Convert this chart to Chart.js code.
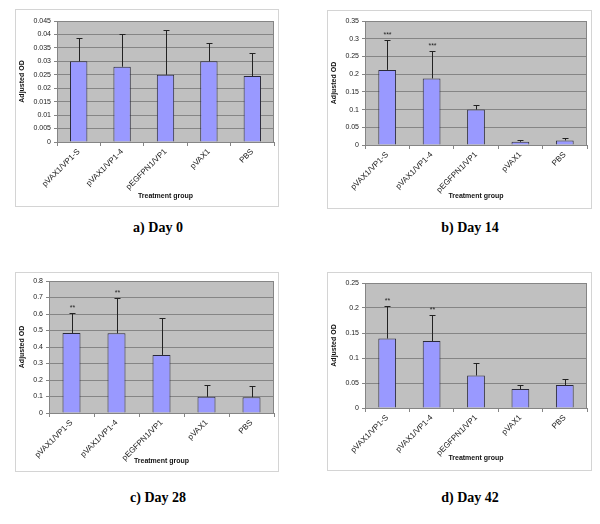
<!DOCTYPE html>
<html>
<head>
<meta charset="utf-8">
<script src="https://cdn.jsdelivr.net/npm/chart.js@4"></script>
<style>
  body { margin: 0; background: #fff; }
  #page { position: relative; width: 600px; height: 524px; }
  .panel { position: absolute; border: 1px solid #d4d4d4; box-sizing: border-box; }
  .cap { position: absolute; font: bold 14px "Liberation Serif", serif; color: #000; white-space: nowrap; transform: translateX(-50%); }
</style>
</head>
<body>
<div id="page">
  <div class="panel" style="left:15px;top:9px;width:264px;height:198px"><canvas id="c0"></canvas></div>
  <div class="panel" style="left:327px;top:10px;width:265px;height:199px"><canvas id="c14"></canvas></div>
  <div class="panel" style="left:15px;top:272px;width:264px;height:200px"><canvas id="c28"></canvas></div>
  <div class="panel" style="left:327px;top:272px;width:265px;height:199px"><canvas id="c42"></canvas></div>
  <div class="cap" style="left:158px;top:220px">a) Day 0</div>
  <div class="cap" style="left:470px;top:220px">b) Day 14</div>
  <div class="cap" style="left:158px;top:490px">c) Day 28</div>
  <div class="cap" style="left:470px;top:490px">d) Day 42</div>
</div>
<script>
const groups = ['pVAX1/VP1-S', 'pVAX1/VP1-4', 'pEGFPN1/VP1', 'pVAX1', 'PBS'];

// bar heights and top of the error bars (mean + SD)
const day0 = [0.030, 0.028, 0.025, 0.030, 0.0245];
const day0Err = [0.0385, 0.040, 0.0418, 0.037, 0.0332];
const day0Stars = ['', '', '', '', ''];
const day0Ticks = ['0', '0.005', '0.01', '0.015', '0.02', '0.025', '0.03', '0.035', '0.04', '0.045'];

const day14 = [0.212, 0.188, 0.100, 0.009, 0.013];
const day14Err = [0.297, 0.266, 0.113, 0.015, 0.020];
const day14Stars = ['***', '***', '', '', ''];
const day14Ticks = ['0', '0.05', '0.1', '0.15', '0.2', '0.25', '0.3', '0.35'];

const day28 = [0.485, 0.483, 0.352, 0.098, 0.096];
const day28Err = [0.607, 0.695, 0.578, 0.170, 0.165];
const day28Stars = ['**', '**', '', '', ''];
const day28Ticks = ['0', '0.1', '0.2', '0.3', '0.4', '0.5', '0.6', '0.7', '0.8'];

const day42 = [0.139, 0.134, 0.065, 0.038, 0.046];
const day42Err = [0.203, 0.187, 0.091, 0.046, 0.058];
const day42Stars = ['**', '**', '', '', ''];
const day42Ticks = ['0', '0.05', '0.1', '0.15', '0.2', '0.25'];

const font = 'Liberation Sans';
const gridGrey = '#858585';

// grey plot background + frame
const plotBg = {
  id: 'plotBg',
  beforeDraw(chart) {
    const a = chart.chartArea, c = chart.ctx;
    c.save();
    c.fillStyle = '#c0c0c0';
    c.fillRect(a.left, a.top, a.right - a.left, a.bottom - a.top);
    c.restore();
  },
  afterDraw(chart) {
    const a = chart.chartArea, c = chart.ctx;
    c.save();
    c.strokeStyle = gridGrey;
    c.lineWidth = 1;
    c.strokeRect(Math.round(a.left) + 0.5, Math.round(a.top) + 0.5, Math.round(a.right - a.left) - 1, Math.round(a.bottom - a.top));
    c.restore();
  }
};

// upward error bars and significance stars
const errBars = {
  id: 'errBars',
  afterDatasetsDraw(chart, args, opts) {
    const c = chart.ctx, y = chart.scales.y;
    const bars = chart.getDatasetMeta(0).data;
    c.save();
    c.strokeStyle = '#222';
    c.lineWidth = 1;
    bars.forEach((bar, i) => {
      const x = Math.round(bar.x) + 0.5;
      const top = Math.round(y.getPixelForValue(opts.upper[i])) + 0.5;
      c.beginPath();
      c.moveTo(x, bar.y);
      c.lineTo(x, top);
      c.moveTo(x - 3, top);
      c.lineTo(x + 3, top);
      c.stroke();
      if (opts.stars[i]) {
        c.fillStyle = '#222';
        c.font = '7px ' + font;
        c.textAlign = 'center';
        c.textBaseline = 'bottom';
        c.fillText(opts.stars[i], x, top - 2);
      }
    });
    c.restore();
  }
};

function makeChart(id, values, upper, stars, ticks, maxY, step, box) {
  new Chart(document.getElementById(id), {
    type: 'bar',
    data: {
      labels: groups,
      datasets: [{
        data: values,
        backgroundColor: '#9999ff',
        borderColor: '#2a2a3a',
        borderWidth: 1,
        categoryPercentage: 1,
        barPercentage: 0.4
      }]
    },
    options: {
      responsive: false,
      animation: false,
      devicePixelRatio: 1,
      layout: { padding: { top: box.top, right: box.right, left: 0, bottom: 0 } },
      plugins: {
        legend: { display: false },
        tooltip: { enabled: false },
        errBars: { upper: upper, stars: stars }
      },
      scales: {
        x: {
          grid: { drawOnChartArea: false, drawTicks: true, tickLength: 4, color: gridGrey },
          border: { color: gridGrey },
          ticks: { color: '#222', font: { family: font, size: 8 }, minRotation: 45, maxRotation: 45, padding: 1 },
          title: { display: true, text: 'Treatment group', color: '#111', font: { family: font, size: 7, weight: 'bold' }, padding: { top: 2, bottom: box.titleGap } },
          afterFit(s) { s.height = box.bottom; }
        },
        y: {
          min: 0,
          max: maxY,
          grid: { color: gridGrey, tickLength: 3 },
          border: { color: gridGrey },
          ticks: {
            stepSize: step,
            color: '#222',
            font: { family: font, size: 7 },
            padding: 3,
            callback: (v, i) => ticks[i]
          },
          title: { display: true, text: 'Adjusted OD', color: '#111', font: { family: font, size: 7, weight: 'bold' }, padding: 2 },
          afterFit(s) { s.width = box.left; }
        }
      }
    },
    plugins: [plotBg, errBars]
  });
}

function sized(id, w, h) {
  const cv = document.getElementById(id);
  cv.width = w; cv.height = h;
  cv.style.width = w + 'px'; cv.style.height = h + 'px';
}
sized('c0', 262, 196);
sized('c14', 263, 197);
sized('c28', 262, 198);
sized('c42', 263, 197);

makeChart('c0', day0, day0Err, day0Stars, day0Ticks, 0.045, 0.005, { left: 41, right: 4, top: 11, bottom: 64, titleGap: 6 });
makeChart('c14', day14, day14Err, day14Stars, day14Ticks, 0.35, 0.05, { left: 37, right: 4, top: 10, bottom: 63, titleGap: 8 });
makeChart('c28', day28, day28Err, day28Stars, day28Ticks, 0.8, 0.1, { left: 33, right: 4, top: 8, bottom: 58, titleGap: 6 });
makeChart('c42', day42, day42Err, day42Stars, day42Ticks, 0.25, 0.05, { left: 37, right: 4, top: 10, bottom: 62, titleGap: 8 });
</script>
</body>
</html>
